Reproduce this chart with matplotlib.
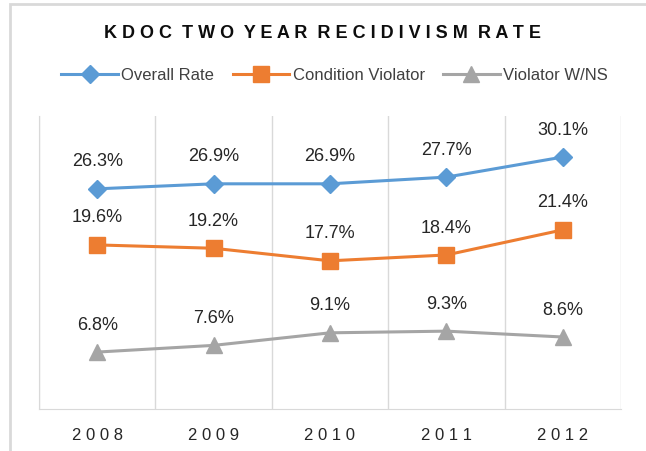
import matplotlib.pyplot as plt
import numpy as np
from matplotlib.patches import Rectangle

plt.rcParams['font.family'] = ['Liberation Sans', 'DejaVu Sans']

years = ["2008", "2009", "2010", "2011", "2012"]
overall = [26.3, 26.9, 26.9, 27.7, 30.1]
condition = [19.6, 19.2, 17.7, 18.4, 21.4]
wns = [6.8, 7.6, 9.1, 9.3, 8.6]

series = [
    ("Overall Rate", overall, "#5B9BD5", "D", 9),
    ("Condition Violator", condition, "#ED7D31", "s", 11),
    ("Violator W/NS", wns, "#A5A5A5", "^", 11),
]

fig = plt.figure(figsize=(6.46, 4.52), dpi=100)
ax = fig.add_axes([39 / 646, 42 / 452, 582 / 646, 293 / 452])

x = np.arange(len(years))
for name, vals, col, mk, ms in series:
    ax.plot(x, vals, color=col, lw=2.2, marker=mk, markersize=ms,
            markeredgecolor=col, label=name)
    for xi, v in zip(x, vals):
        ax.annotate(f"{v:.1f}%", (xi, v), xytext=(0, 14), textcoords="offset points",
                    ha="center", va="bottom", fontsize=13, color="#262626")

ax.set_xlim(-0.5, len(years) - 0.5)
ax.set_ylim(0, 35)
ax.set_yticks([])
ax.set_xticks(x)
ax.set_xticklabels([" ".join(y) for y in years], fontsize=12, color="#262626")
ax.set_xticks(np.arange(-0.5, len(years), 1), minor=True)
ax.tick_params(axis="x", which="both", length=0, pad=13)
ax.grid(axis="x", which="minor", color="#D9D9D9", lw=1)
for s in ["top", "right"]:
    ax.spines[s].set_visible(False)
ax.spines["left"].set_color("#D9D9D9")
ax.spines["bottom"].set_color("#D9D9D9")

fig.text(0.5, 0.926, "  ".join(" ".join(w) for w in "KDOC TWO YEAR RECIDIVISM RATE".split()),
         ha="center", va="center", fontsize=13, fontweight="bold", color="#0D0D0D")

fig.legend(loc="center", bbox_to_anchor=(0.518, 0.832), ncol=3, frameon=False,
           fontsize=12, handlelength=3.4, columnspacing=1.1, handletextpad=0.2,
           labelcolor="#404040")

fig.patches.append(Rectangle((10 / 646, -0.1), 1.2, 1.1 - 5 / 452, transform=fig.transFigure,
                             fill=False, edgecolor="#D9D9D9", lw=2))

fig.savefig("out.png", dpi=100)
